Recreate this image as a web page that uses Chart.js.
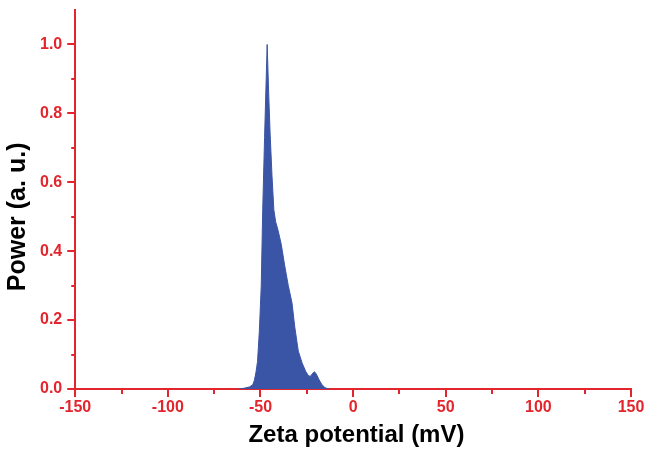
<!DOCTYPE html>
<html>
<head>
<meta charset="utf-8">
<script src="https://cdn.jsdelivr.net/npm/chart.js@4/dist/chart.umd.min.js"></script>
<style>
  html, body { margin: 0; padding: 0; background: #fff; }
  #wrap { width: 646px; height: 450px; }
</style>
</head>
<body>
<div id="wrap"><canvas id="graph1" width="646" height="450"></canvas></div>
<script>
// zeta potential distribution
var zeta = [-62, -59, -56, -54.2, -53.3, -52.4, -51.6, -50.6, -49.6, -48.8,
    -47.8, -46.4, -45.6, -44.8, -43.8, -42.8, -41.8, -40.5, -38.8,
    -37, -35, -33, -31.5, -29.6, -27.5, -25.5, -24, -23, -21.8,
    -21, -20, -18.5, -17, -15.5, -14, -12.5];
var power = [0, 0.002, 0.006, 0.012, 0.025, 0.05, 0.08, 0.17, 0.30, 0.52,
    0.73, 1.0, 0.86, 0.74, 0.62, 0.52, 0.485, 0.46, 0.42,
    0.36, 0.30, 0.25, 0.18, 0.11, 0.075, 0.05, 0.038, 0.037, 0.046,
    0.05, 0.045, 0.028, 0.014, 0.005, 0.001, 0];

var xTicks = [-150, -100, -50, 0, 50, 100, 150];
var xMinor = [-125, -75, -25, 25, 75, 125];
var yTicks = [0.0, 0.2, 0.4, 0.6, 0.8, 1.0];
var yMinor = [0.1, 0.3, 0.5, 0.7, 0.9];

var rouge = '#e3262d';
var bleu = '#3b55a6';

var points = [];
for (let i = 0; i < zeta.length; i++) {
    points.push({ x: zeta[i], y: power[i] });
}

// petites graduations entre les grandes
var minorTicks = {
    id: 'minorTicks',
    afterDraw: function (chart) {
        var c = chart.ctx, sx = chart.scales.x, sy = chart.scales.y;
        c.save();
        c.strokeStyle = rouge;
        c.lineWidth = 2;
        c.beginPath();
        xMinor.forEach(function (v) {
            var p = Math.round(sx.getPixelForValue(v));
            c.moveTo(p, sx.top);
            c.lineTo(p, sx.top + 5);
        });
        yMinor.forEach(function (v) {
            var p = Math.round(sy.getPixelForValue(v));
            c.moveTo(sy.right, p);
            c.lineTo(sy.right - 4, p);
        });
        c.stroke();
        c.restore();
    }
}

var ctx = document.getElementById('graph1').getContext('2d');
var data = {
    datasets: [{
        label: 'Power',
        data: points,
        backgroundColor: bleu,
        borderColor: bleu,
        borderWidth: 1,
        pointRadius: 0,
        tension: 0,
        fill: 'origin'
    }]
}
var options = {
    responsive: false,
    animation: false,
    layout: { padding: { top: 10, right: 15, left: 0, bottom: 0 } },
    plugins: { legend: { display: false }, tooltip: { enabled: false } },
    scales: {
        x: {
            type: 'linear',
            min: -150,
            max: 150,
            afterBuildTicks: function (scale) {
                scale.ticks = xTicks.map(function (v) { return { value: v }; });
            },
            border: { color: rouge, width: 2 },
            grid: { drawOnChartArea: false, color: rouge, tickLength: 8, lineWidth: 2 },
            ticks: {
                autoSkip: false,
                maxRotation: 0,
                color: rouge,
                padding: 1,
                font: { family: 'Liberation Sans', size: 16, weight: 'bold' }
            },
            title: {
                display: true,
                text: ' Zeta potential (mV)',
                color: '#000',
                padding: { top: 3, bottom: 0 },
                font: { family: 'Liberation Sans', size: 24, weight: 'bold' }
            }
        },
        y: {
            min: 0,
            max: 1.1,
            afterBuildTicks: function (scale) {
                scale.ticks = yTicks.map(function (v) { return { value: v }; });
            },
            afterFit: function (scale) {
                scale.paddingTop = 0;
            },
            border: { color: rouge, width: 2 },
            grid: { drawOnChartArea: false, color: rouge, tickLength: 8, lineWidth: 2 },
            ticks: {
                autoSkip: false,
                color: rouge,
                padding: 5,
                font: { family: 'Liberation Sans', size: 16, weight: 'bold' },
                callback: function (v) { return v.toFixed(1); }
            },
            title: {
                display: true,
                text: 'Power (a. u.)     ',
                color: '#000',
                padding: { top: 3, bottom: 2 },
                font: { family: 'Liberation Sans', size: 25, weight: 'bold' }
            }
        }
    }
}
var config = {
    type: 'line',
    data: data,
    options: options,
    plugins: [minorTicks]
}
var graph1 = new Chart(ctx, config)
</script>
</body>
</html>
